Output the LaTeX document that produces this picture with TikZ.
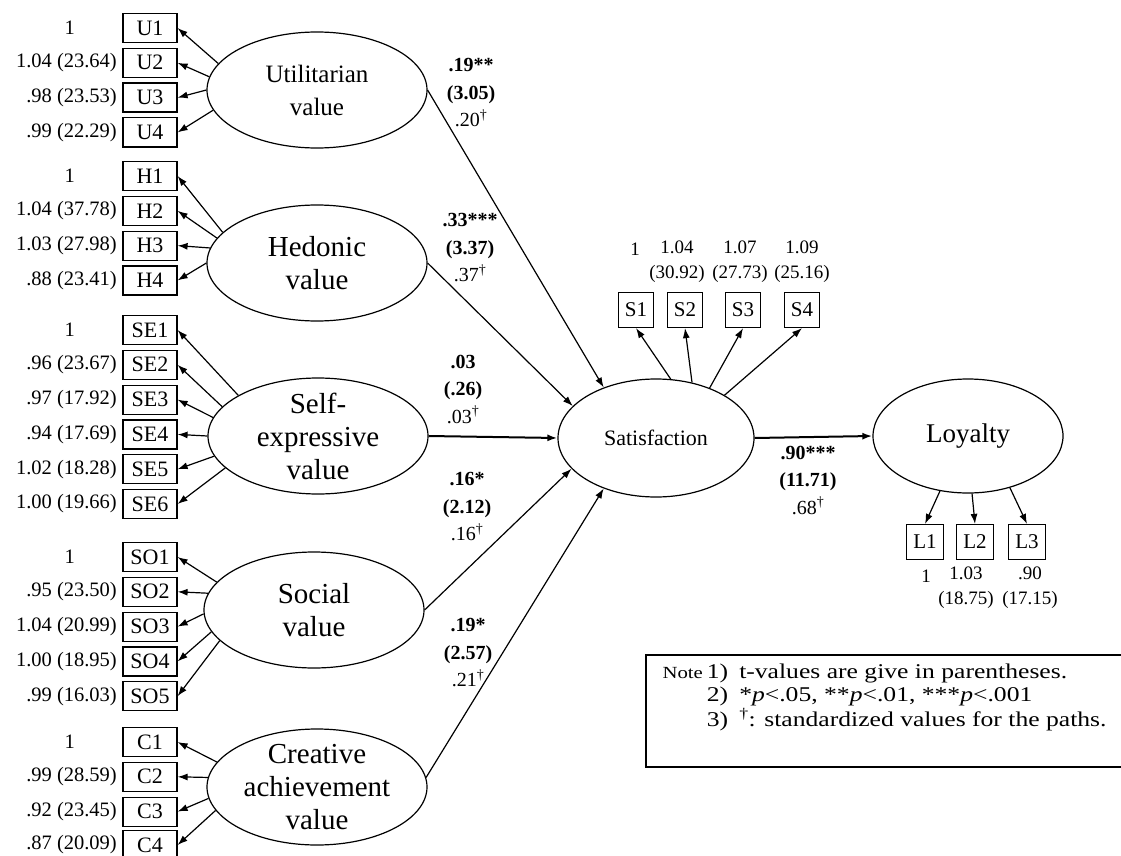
\documentclass[tikz,border=0pt]{standalone}
\usepackage{fontspec}
\setmainfont{Liberation Serif}
\newfontfamily\notefont[FakeStretch=1.22]{Liberation Serif}
\usetikzlibrary{shapes.geometric,arrows.meta,positioning}
\begin{document}
\begin{tikzpicture}[x=1pt, y=-1pt, node distance=34.8pt, line width=1.2pt,
    >={Latex[length=10pt,width=7pt]},
    lat/.style={draw, ellipse, inner sep=0pt, minimum width=220pt, minimum height=116pt},
    lattxt/.style={inner sep=0pt, align=center, font=\fontsize{29}{33}\selectfont},
    ind/.style={draw, inner sep=0pt, minimum width=54pt, minimum height=29pt, font=\fontsize{22}{22}\selectfont},
    sbox/.style={draw, inner sep=0pt, minimum width=35pt, minimum height=35pt, font=\fontsize{21}{21}\selectfont},
    lbl/.style={inner sep=0pt, font=\fontsize{20.5}{22}\selectfont},
    slbl/.style={inner sep=0pt, align=center, font=\fontsize{19}{25}\selectfont},
    coef/.style={inner sep=0pt, align=center, font=\fontsize{20}{27.5}\selectfont}]
    \useasboundingbox (0,0) rectangle (1121,856);
    \clip (0,0) rectangle (1121,856);

    % latent variables
    \node (util) [lat] at (317,90) {};
    \node (utilt) [lattxt, font=\fontsize{25}{33}\selectfont] at (util) {Utilitarian\\value};
    \node (hedo) [lat] at (317,263) {};
    \node (hedot) [lattxt] at (hedo) {Hedonic\\value};
    \node (self) [lat] at (318,436) {};
    \node (selft) [lattxt] at (self) {Self-\\expressive\\value};
    \node (soci) [lat] at (314,610) {};
    \node (socit) [lattxt] at (soci) {Social\\value};
    \node (crea) [lat] at (317,787) {};
    \node (creat) [lattxt] at (crea) {Creative\\achievement\\value};
    \node (sat) [lat, minimum width=196pt, minimum height=118pt, font=\fontsize{22}{22}\selectfont] at (656,438) {Satisfaction};
    \node (loy) [lat, minimum width=190pt, minimum height=114pt, font=\fontsize{27}{27}\selectfont] at (968,436) {Loyalty};

    % utilitarian
    \node (U1) [ind] at (150,28) {U1};
    \node (U2) [ind, below of=U1] {U2};
    \node (U3) [ind, below of=U2] {U3};
    \node (U4) [ind, below of=U3] {U4};
    \node (lU1) [lbl, left=47pt of U1] {1};
    \node (lU2) [lbl, left=5pt of U2] {1.04 (23.64)};
    \node (lU3) [lbl, left=5pt of U3] {.98 (23.53)};
    \node (lU4) [lbl, left=5pt of U4] {.99 (22.29)};
    \draw[->] (util.165) -- (U1.east); \draw[->] (util.173) -- (U2.east);
    \draw[->] (util.180) -- (U3.east); \draw[->] (util.191) -- (U4.east);

    % hedonic
    \node (H1) [ind] at (150,176) {H1};
    \node (H2) [ind, below of=H1] {H2};
    \node (H3) [ind, below of=H2] {H3};
    \node (H4) [ind, below of=H3] {H4};
    \node (lH1) [lbl, left=47pt of H1] {1};
    \node (lH2) [lbl, left=5pt of H2] {1.04 (37.78)};
    \node (lH3) [lbl, left=5pt of H3] {1.03 (27.98)};
    \node (lH4) [lbl, left=5pt of H4] {.88 (23.41)};
    \draw[->] (hedo.162) -- (H1.east); \draw[->] (hedo.166) -- (H2.east);
    \draw[->] (hedo.172) -- (H3.east); \draw[->] (hedo.180) -- (H4.east);

    % self-expressive
    \node (SE1) [ind] at (150,330) {SE1};
    \node (SE2) [ind, below of=SE1] {SE2};
    \node (SE3) [ind, below of=SE2] {SE3};
    \node (SE4) [ind, below of=SE3] {SE4};
    \node (SE5) [ind, below of=SE4] {SE5};
    \node (SE6) [ind, below of=SE5] {SE6};
    \node (lSE1) [lbl, left=47pt of SE1] {1};
    \node (lSE2) [lbl, left=5pt of SE2] {.96 (23.67)};
    \node (lSE3) [lbl, left=5pt of SE3] {.97 (17.92)};
    \node (lSE4) [lbl, left=5pt of SE4] {.94 (17.69)};
    \node (lSE5) [lbl, left=5pt of SE5] {1.02 (18.28)};
    \node (lSE6) [lbl, left=5pt of SE6] {1.00 (19.66)};
    \draw[->] (self.153) -- (SE1.east); \draw[->] (self.163) -- (SE2.east);
    \draw[->] (self.170) -- (SE3.east); \draw[->] (self.180) -- (SE4.east);
    \draw[->] (self.191) -- (SE5.east); \draw[->] (self.199) -- (SE6.east);

    % social
    \node (SO1) [ind] at (150,557) {SO1};
    \node (SO2) [ind, below of=SO1] {SO2};
    \node (SO3) [ind, below of=SO2] {SO3};
    \node (SO4) [ind, below of=SO3] {SO4};
    \node (SO5) [ind, below of=SO4] {SO5};
    \node (lSO1) [lbl, left=47pt of SO1] {1};
    \node (lSO2) [lbl, left=5pt of SO2] {.95 (23.50)};
    \node (lSO3) [lbl, left=5pt of SO3] {1.04 (20.99)};
    \node (lSO4) [lbl, left=5pt of SO4] {1.00 (18.95)};
    \node (lSO5) [lbl, left=5pt of SO5] {.99 (16.03)};
    \draw[->] (soci.164) -- (SO1.east); \draw[->] (soci.171) -- (SO2.east);
    \draw[->] (soci.182) -- (SO3.east); \draw[->] (soci.192) -- (SO4.east);
    \draw[->] (soci.198) -- (SO5.east);

    % creative achievement
    \node (C1) [ind] at (150,742) {C1};
    \node (C2) [ind, below of=C1] {C2};
    \node (C3) [ind, below of=C2] {C3};
    \node (C4) [ind] at (150,845) {C4};
    \node (lC1) [lbl, left=47pt of C1] {1};
    \node (lC2) [lbl, left=5pt of C2] {.99 (28.59)};
    \node (lC3) [lbl, left=5pt of C3] {.92 (23.45)};
    \node (lC4) [lbl, left=5pt of C4] {.87 (20.09)};
    \draw[->] (crea.166) -- (C1.east); \draw[->] (crea.175) -- (C2.east);
    \draw[->] (crea.186) -- (C3.east); \draw[->] (crea.193) -- (C4.east);

    % satisfaction indicators
    \node (S1) [sbox] at (636,310) {S1};
    \node (S2) [sbox] at (685,310) {S2};
    \node (S3) [sbox] at (743,310) {S3};
    \node (S4) [sbox] at (802,310) {S4};
    \node (lS1) [slbl] at (635,249) {1};
    \node (lS2) [slbl] at (677,261.5) {1.04\\(30.92)};
    \node (lS3) [slbl] at (740,261.5) {1.07\\(27.73)};
    \node (lS4) [slbl] at (802,261.5) {1.09\\(25.16)};
    \draw[->] (sat.76) -- (S1.south); \draw[->] (sat.57) -- (S2.south);
    \draw[->] (sat.43) -- (S3.south); \draw[->] (sat.32) -- (S4.south);

    % loyalty indicators
    \node (L1) [sbox, minimum width=37pt] at (925,542) {L1};
    \node (L2) [sbox, minimum width=37pt] at (975,542) {L2};
    \node (L3) [sbox, minimum width=37pt] at (1027,542) {L3};
    \node (lL1) [slbl] at (926,576) {1};
    \node (lL2) [slbl] at (966,587.5) {1.03\\(18.75)};
    \node (lL3) [slbl] at (1030,587.5) {.90\\(17.15)};
    \draw[->] (loy.243) -- (L1.north); \draw[->] (loy.274) -- (L2.north);
    \draw[->] (loy.309) -- (L3.north);

    % structural paths
    \draw[->] (util.east) -- (sat.136);
    \draw[->] (hedo.east) -- (sat.159);
    \draw[->, line width=2pt] (self.east) -- (sat.west);
    \draw[->] (soci.east) -- (sat.200);
    \draw[->] (crea.5) -- (sat.224);
    \draw[->, line width=2pt] (sat.east) -- (loy.west);
    \node (pU) [coef] at (471,93) {\textbf{.19**}\\\textbf{(3.05)}\\.20\textsuperscript{†}};
    \node (pH) [coef] at (470,248) {\textbf{.33***}\\\textbf{(3.37)}\\.37\textsuperscript{†}};
    \node (pSE) [coef] at (463,389) {\textbf{.03}\\\textbf{(.26)}\\.03\textsuperscript{†}};
    \node (pSO) [coef] at (467,507) {\textbf{.16*}\\\textbf{(2.12)}\\.16\textsuperscript{†}};
    \node (pC) [coef] at (468,653) {\textbf{.19*}\\\textbf{(2.57)}\\.21\textsuperscript{†}};
    \node (pL) [coef] at (808,480) {\textbf{.90***}\\\textbf{(11.71)}\\.68\textsuperscript{†}};

    % note
    \draw (646,655) rectangle (1140,767);
    \node (note) [anchor=north west, inner sep=0pt] at (662,661) {\notefont\fontsize{21}{23.5}\selectfont
      \begin{tabular}{@{}l@{\hspace{4pt}}l@{\hspace{11pt}}l@{}}
        {\fontsize{17}{17}\selectfont Note} & 1) & t-values are give in parentheses.\\
        & 2) & *\textit{p}<.05, **\textit{p}<.01, ***\textit{p}<.001\\
        & 3) & \textsuperscript{†}: standardized values for the paths.
      \end{tabular}};
\end{tikzpicture}
\end{document}
